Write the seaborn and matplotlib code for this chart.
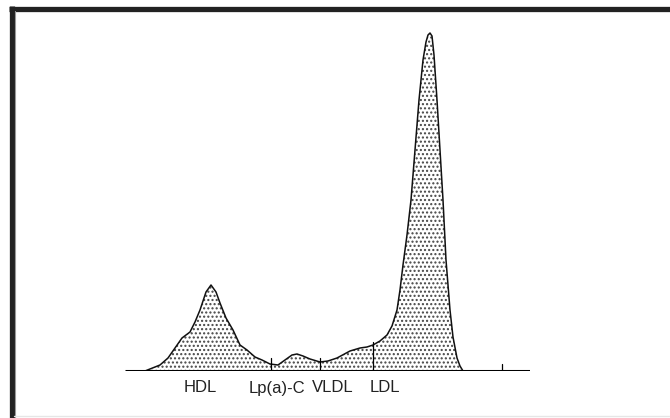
import numpy as np
import pandas as pd
import matplotlib
matplotlib.use("Agg")
import matplotlib.pyplot as plt
from matplotlib.lines import Line2D
import seaborn as sns

# Electrophoresis densitometry trace (mobility position, density height)
mobility = [145, 150, 160, 168, 175, 182, 190, 195, 200, 206, 211, 216, 220, 226,
            233, 240, 247, 255, 262, 270, 278, 285, 292, 297, 303, 310, 320, 328,
            337, 350, 360, 367, 373, 380, 387, 392, 397, 400, 403, 407, 411, 415,
            419, 423, 426, 428, 430, 432, 434, 437, 440, 443, 446, 450, 453, 457,
            460, 463]
density = [0, 2, 6, 13, 23, 33, 39, 49, 61, 79, 86, 79, 68, 53,
           41, 26, 21, 14, 11, 7, 6, 11, 16, 17, 15, 12, 9, 10,
           13, 20, 23, 24, 26, 30, 36, 45, 61, 81, 106, 136, 171, 221,
           271, 311, 329, 336, 338, 335, 316, 271, 221, 171, 111, 61, 34, 13,
           5, 0]

fraction_labels = ["HDL", "Lp(a)-C", "VLDL", "LDL"]
label_positions = [200, 277, 333, 385]
dividers = [271, 320, 373]
divider_tops = [13, 13, 29]
axis_ticks = [502]

df = pd.DataFrame({"mobility": mobility, "density": density})

sns.set_style("white")
plt.rcParams["font.family"] = ["Liberation Sans", "DejaVu Sans"]
plt.rcParams["hatch.linewidth"] = 1.0

W, H = 670, 418
fig = plt.figure(figsize=(W / 100, H / 100), dpi=100)
ax = fig.add_axes([125 / W, (H - 371) / H, (530 - 125) / W, (371 - 20) / H])
ax.set_xlim(125, 530)
ax.set_ylim(0, 351)
ax.axis("off")

ax.fill_between(df["mobility"], 0, df["density"], facecolor="white",
                hatch="....", edgecolor="#444444", linewidth=0)
sns.lineplot(data=df, x="mobility", y="density", ax=ax, color="#111111",
             linewidth=1.1, legend=False)

# baseline
ax.plot([125, 530], [0, 0], color="black", linewidth=2.2, solid_capstyle="butt")
for t in axis_ticks:
    ax.plot([t, t], [0, 7], color="black", linewidth=0.9)
for d, top in zip(dividers, divider_tops):
    ax.plot([d, d], [0, top], color="black", linewidth=0.9)

for lab, pos in zip(fraction_labels, label_positions):
    ax.text(pos, -17, lab, ha="center", va="center", fontsize=12, color="#222222")

# frame
fig.add_artist(Line2D([11.5 / W, 11.5 / W], [0, (H - 6) / H], color="#222222",
                      linewidth=3.8, solid_capstyle="butt"))
fig.add_artist(Line2D([9 / W, 1], [(H - 8.5) / H, (H - 8.5) / H], color="#222222",
                      linewidth=3.8, solid_capstyle="butt"))
fig.add_artist(Line2D([14.5 / W, 14.5 / W], [0, (H - 11) / H], color="#999999",
                      linewidth=0.8))
fig.add_artist(Line2D([14 / W, 1], [2.5 / H, 2.5 / H], color="#e6e6e6",
                      linewidth=1.0))

fig.savefig("out.png", dpi=100)
